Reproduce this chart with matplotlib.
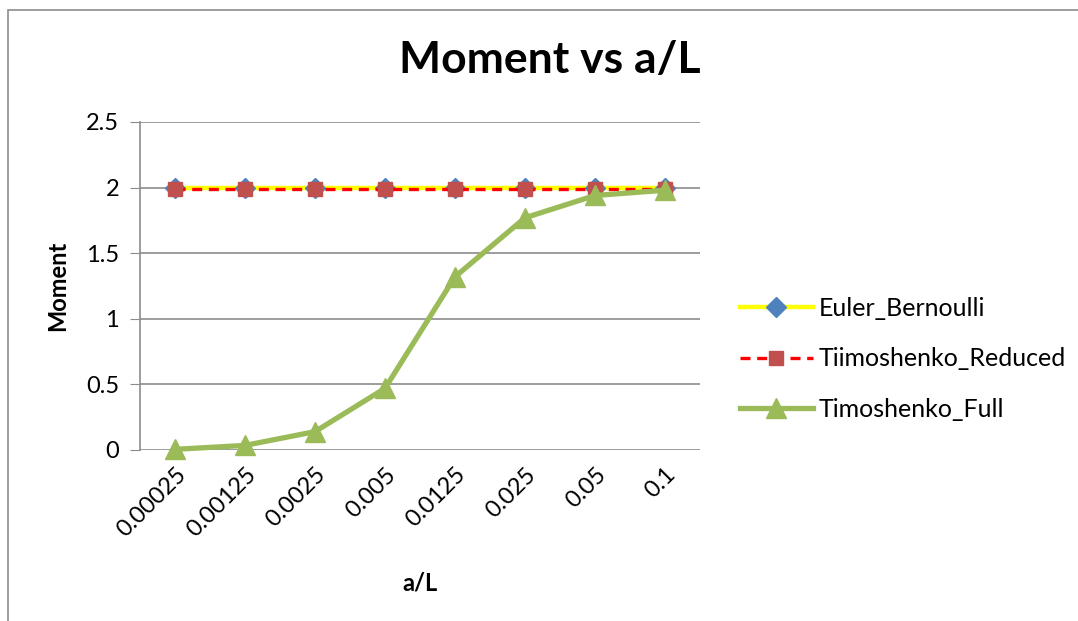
import matplotlib

matplotlib.use("Agg")
import matplotlib.pyplot as plt  # noqa: E402
from matplotlib.patches import Rectangle  # noqa: E402

plt.rcParams["font.family"] = ["Lato", "DejaVu Sans"]

# --- data ---
a_over_l = ["0.00025", "0.00125", "0.0025", "0.005", "0.0125", "0.025", "0.05", "0.1"]
euler_bernoulli = [2.0, 2.0, 2.0, 2.0, 2.0, 2.0, 2.0, 2.0]
timoshenko_reduced = [1.99, 1.99, 1.99, 1.99, 1.99, 1.99, 1.99, 1.99]
timoshenko_full = [0.005, 0.035, 0.14, 0.47, 1.32, 1.77, 1.94, 1.98]

y_ticks = [0, 0.5, 1, 1.5, 2, 2.5]
y_ticklabels = ["0", "0.5", "1", "1.5", "2", "2.5"]

fig = plt.figure(figsize=(10.78, 6.21), dpi=100)
# outer chart border (Excel chart area)
fig.patches.append(Rectangle((8 / 1078, -0.05), 1.2, 1 - 10 / 621 + 0.05,
                             transform=fig.transFigure, fill=False,
                             edgecolor="#8c8c8c", lw=1.2))

ax = fig.add_axes([140 / 1078, 171 / 621, 560 / 1078, 328 / 621])
x = list(range(len(a_over_l)))

ax.plot(x, euler_bernoulli, color="#ffff00", lw=3.2, marker="D", ms=10,
        mfc="#4f81bd", mec="#4f81bd", label="Euler_Bernoulli", zorder=3,
        clip_on=False)
ax.plot(x, timoshenko_reduced, color="#ff0000", lw=2.4, ls=(0, (3, 2)),
        marker="s", ms=10, mfc="#c0504d", mec="#c0504d",
        label="Tiimoshenko_Reduced", zorder=4, clip_on=False)
ax.plot(x, timoshenko_full, color="#9bbb59", lw=3.8, marker="^", ms=14,
        mfc="#9bbb59", mec="#9bbb59", label="Timoshenko_Full", zorder=5,
        clip_on=False)

ax.set_xlim(-0.5, len(a_over_l) - 0.5)
ax.set_ylim(0, 2.5)
ax.set_yticks(y_ticks)
ax.set_yticklabels(y_ticklabels, fontsize=17)
ax.set_xticks(x)
ax.set_xticklabels(a_over_l, rotation=45, ha="right", va="top",
                   rotation_mode="anchor", fontsize=17)
ax.tick_params(axis="x", length=0, pad=10)
ax.tick_params(axis="y", length=7, color="#8c8c8c", pad=8)
ax.grid(axis="y", color="#8c8c8c", lw=1.2)
ax.set_axisbelow(True)
for side in ("top", "right", "bottom"):
    ax.spines[side].set_visible(False)
ax.spines["left"].set_color("#8c8c8c")
ax.spines["left"].set_linewidth(1.2)

ax.set_xlabel("a/L", fontsize=17, fontweight="bold", labelpad=22)
ax.set_ylabel("Moment", fontsize=17, fontweight="bold", labelpad=12)
fig.text(550 / 1078, 1 - 60 / 621, "Moment vs a/L", fontsize=32,
         fontweight="bold", ha="center", va="center")

fig.legend(loc="center left", bbox_to_anchor=(740 / 1078, 1 - 359 / 621),
           frameon=False, fontsize=18, handlelength=2.9, labelspacing=1.1,
           handletextpad=0.25, borderaxespad=0, borderpad=0)

fig.savefig("out.png", dpi=100)
